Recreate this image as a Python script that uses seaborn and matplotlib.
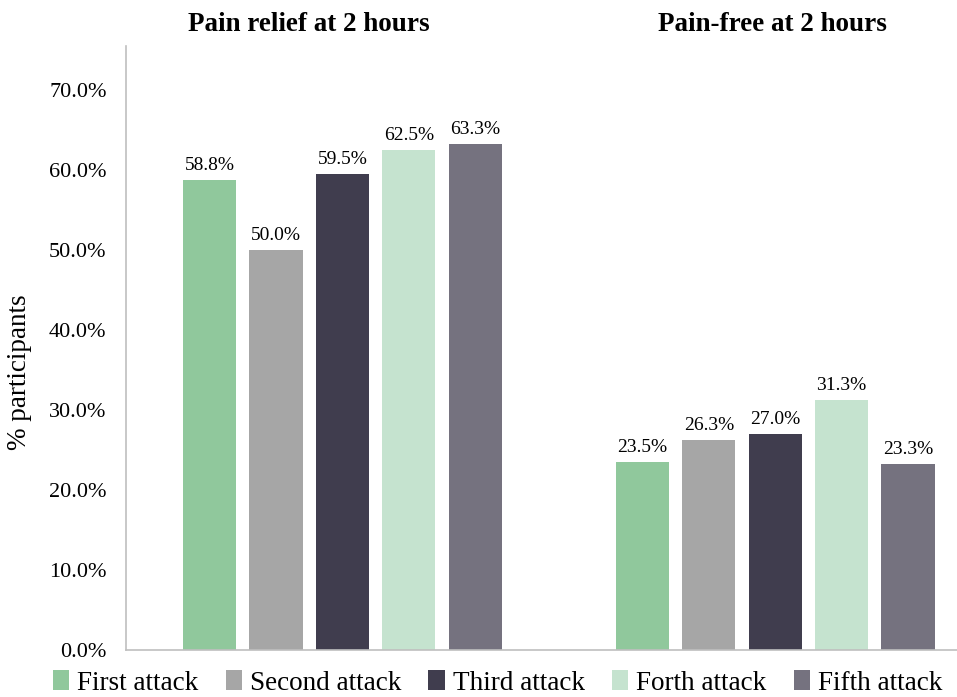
import matplotlib
matplotlib.use("Agg")
import matplotlib.pyplot as plt
from matplotlib.ticker import PercentFormatter
from matplotlib.patches import Patch
import seaborn as sns
import pandas as pd

groups = ["Pain relief at 2 hours", "Pain-free at 2 hours"]
attacks = ["First attack", "Second attack", "Third attack", "Forth attack", "Fifth attack"]
pain_relief = [0.588, 0.500, 0.595, 0.625, 0.633]
pain_free = [0.235, 0.263, 0.270, 0.313, 0.233]
colors = ["#90C89C", "#A6A6A6", "#403D4E", "#C5E3CF", "#75727F"]
yticks = [0.0, 0.1, 0.2, 0.3, 0.4, 0.5, 0.6, 0.7]

rows = []
for a, v in zip(attacks, pain_relief):
    rows.append({"group": groups[0], "attack": a, "value": v})
for a, v in zip(attacks, pain_free):
    rows.append({"group": groups[1], "attack": a, "value": v})
df = pd.DataFrame(rows)

sns.set_theme(style="white")
plt.rcParams["font.family"] = ["Liberation Serif", "DejaVu Serif"]
for k in ["text.color", "axes.labelcolor", "xtick.color", "ytick.color"]:
    plt.rcParams[k] = "black"

fig = plt.figure(figsize=(9.57, 6.97), dpi=100)
ax = fig.add_axes([0.1317, 0.0674, 0.8683, 0.8666])

sns.barplot(data=df, x="group", y="value", hue="attack", order=groups,
            hue_order=attacks, palette=colors, width=0.767, gap=0.2,
            saturation=1, ax=ax, legend=False, linewidth=0, edgecolor="none")

for cont in ax.containers:
    ax.bar_label(cont, fmt=lambda v: f"{v*100:.1f}%", padding=4, fontsize=14)

ax.set_ylim(0, 0.755)
ax.set_xlim(-0.5, 1.42)
ax.set_yticks(yticks)
ax.yaxis.set_major_formatter(PercentFormatter(1, decimals=1))
ax.tick_params(axis="y", labelsize=16, length=0, pad=14)
ax.set_xticks([])
ax.set_xlabel("")
ax.set_ylabel("")
for s in ["top", "right"]:
    ax.spines[s].set_visible(False)
for s in ["left", "bottom"]:
    ax.spines[s].set_color("#BFBFBF")
    ax.spines[s].set_linewidth(1.2)

title_x = [-0.077, -0.077 + 1.07]
for tx, g in zip(title_x, groups):
    ax.text(tx, 1.035, g, transform=ax.get_xaxis_transform(), ha="center",
            va="center", fontsize=19.5, fontweight="bold")

fig.text(20 / 957, (697 - 372) / 697, "% participants", rotation=90,
         ha="center", va="center", fontsize=19.5)

handles = [Patch(facecolor=c, edgecolor="none") for c in colors]
fig.legend(handles, attacks, loc="center", bbox_to_anchor=(0.52, 0.02),
           ncol=5, frameon=False, fontsize=19.5, handlelength=0.6,
           handleheight=0.75, handletextpad=0.3, columnspacing=1.0)

fig.savefig("out.png", dpi=100)
